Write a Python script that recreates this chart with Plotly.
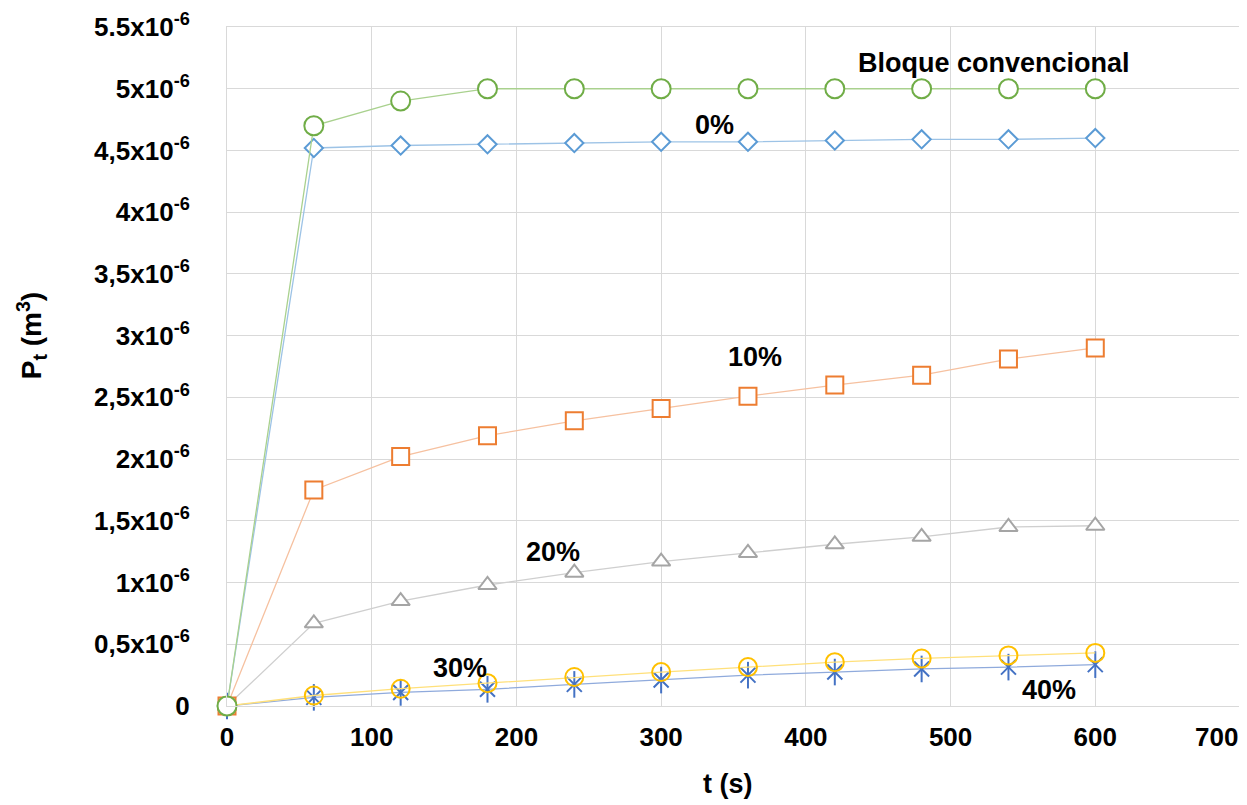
import plotly.graph_objects as go

t = [0, 60, 120, 180, 240, 300, 360, 420, 480, 540, 600]
bloque = [0, 4.70, 4.90, 5.00, 5.00, 5.00, 5.00, 5.00, 5.00, 5.00, 5.00]
p0 = [0, 4.52, 4.54, 4.55, 4.56, 4.57, 4.57, 4.58, 4.59, 4.59, 4.60]
p10 = [0, 1.75, 2.02, 2.19, 2.31, 2.41, 2.51, 2.60, 2.68, 2.81, 2.90]
p20 = [0, 0.67, 0.85, 0.98, 1.08, 1.17, 1.24, 1.31, 1.37, 1.45, 1.46]
p30 = [0, 0.085, 0.14, 0.185, 0.235, 0.275, 0.315, 0.355, 0.385, 0.41, 0.43]
p40 = [0, 0.07, 0.11, 0.135, 0.175, 0.21, 0.25, 0.275, 0.30, 0.315, 0.335]
scale = 1e-6

ytickvals = [0, 0.5, 1, 1.5, 2, 2.5, 3, 3.5, 4, 4.5, 5, 5.5]
yticktext = ["0", "0,5x10<sup>-6</sup>", "1x10<sup>-6</sup>", "1,5x10<sup>-6</sup>",
             "2x10<sup>-6</sup>", "2,5x10<sup>-6</sup>", "3x10<sup>-6</sup>",
             "3,5x10<sup>-6</sup>", "4x10<sup>-6</sup>", "4,5x10<sup>-6</sup>",
             "5x10<sup>-6</sup>", "5.5x10<sup>-6</sup>"]
xtickvals = [0, 100, 200, 300, 400, 500, 600, 700]
xticktext = ["0", "100", "200", "300", "400", "500", "600", "700"]

labels = ["Bloque convencional", "0%", "10%", "20%", "30%", "40%"]
label_x = [530, 337, 365, 225, 161, 568]
label_y = [5.21, 4.71, 2.83, 1.25, 0.31, 0.13]

FONT = "Liberation Sans, Arial, sans-serif"

fig = go.Figure()

def ys(v):
    return [a * scale for a in v]

# 40% - asterisk style (x + vertical line)
fig.add_trace(go.Scatter(x=t, y=ys(p40), mode="lines+markers",
                         line=dict(color="#8FAADC", width=1.3),
                         marker=dict(symbol="x-thin-open", size=15, color="#4472C4",
                                     line=dict(color="#4472C4", width=2))))
fig.add_trace(go.Scatter(x=t, y=ys(p40), mode="markers",
                         marker=dict(symbol="line-ns-open", size=19, color="#4472C4",
                                     line=dict(color="#4472C4", width=2))))
fig.add_trace(go.Scatter(x=t, y=ys(p30), mode="lines+markers",
                         line=dict(color="#FFE07A", width=1.3),
                         marker=dict(symbol="circle-open", size=18, color="#FFC000",
                                     line=dict(color="#FFC000", width=2))))
fig.add_trace(go.Scatter(x=t, y=ys(p20), mode="lines+markers",
                         line=dict(color="#CFCFCF", width=1.3),
                         marker=dict(symbol="triangle-up", size=16, color="white",
                                     line=dict(color="#A5A5A5", width=2))))
fig.add_trace(go.Scatter(x=t, y=ys(p10), mode="lines+markers",
                         line=dict(color="#F6C1A0", width=1.3),
                         marker=dict(symbol="square", size=17, color="white",
                                     line=dict(color="#ED7D31", width=2))))
fig.add_trace(go.Scatter(x=t, y=ys(p0), mode="lines+markers",
                         line=dict(color="#9DC3E6", width=1.3),
                         marker=dict(symbol="diamond", size=14, color="white",
                                     line=dict(color="#5B9BD5", width=2))))
fig.add_trace(go.Scatter(x=t, y=ys(bloque), mode="lines+markers",
                         line=dict(color="#A9D18E", width=1.3),
                         marker=dict(symbol="circle", size=19, color="white",
                                     line=dict(color="#70AD47", width=2))))

for tr in fig.data:
    tr.cliponaxis = False
    tr.showlegend = False

for txt, ax, ay in zip(labels, label_x, label_y):
    fig.add_annotation(x=ax, y=ay * scale, text="<b>%s</b>" % txt, showarrow=False,
                       font=dict(family=FONT, size=27, color="black"))

# last x tick label sits left of its gridline (kept inside the page)
fig.add_annotation(x=xtickvals[-1], xref="x", yref="paper", y=-0.046,
                   text="<b>%s</b>" % xticktext[-1], showarrow=False,
                   xanchor="right", yanchor="middle",
                   font=dict(family=FONT, size=26, color="black", weight="bold"))

# axis titles placed as annotations (paper coords)
fig.add_annotation(xref="paper", yref="paper", x=0.4946, y=-0.1155,
                   text="<b>t (s)</b>", showarrow=False,
                   xanchor="center", yanchor="middle",
                   font=dict(family=FONT, size=27, color="black"))
fig.add_annotation(xref="paper", yref="paper", x=-0.1925, y=0.546,
                   text="<b>P<sub>t</sub> (m<sup>3</sup>)</b>", showarrow=False,
                   textangle=-90, xanchor="center", yanchor="middle",
                   font=dict(family=FONT, size=28, color="black"))

fig.update_layout(
    width=1239, height=797,
    margin=dict(l=219, r=7, t=19, b=99, autoexpand=False),
    paper_bgcolor="white", plot_bgcolor="white",
    font=dict(family=FONT, color="black"),
    xaxis=dict(range=[0, 700], tickvals=xtickvals,
               ticktext=["<b>%s</b>" % v for v in xticktext[:-1]] + [""],
               tickfont=dict(size=26, family=FONT),
               showgrid=True, gridcolor="#D9D9D9", gridwidth=1,
               showline=True, linecolor="#D9D9D9", linewidth=1, mirror=True,
               zeroline=False, ticks="", ticklabelstandoff=8,
               automargin=False),
    yaxis=dict(range=[0, 5.5e-6], tickvals=[v * scale for v in ytickvals],
               ticktext=["<b>%s</b>" % s for s in yticktext],
               tickfont=dict(size=26, family=FONT),
               showgrid=True, gridcolor="#D9D9D9", gridwidth=1,
               showline=True, linecolor="#D9D9D9", linewidth=1, mirror=True,
               zeroline=False, ticks="", ticklabelstandoff=31,
               ticklabeloverflow="allow", automargin=False),
)

fig.write_html("out.html")
